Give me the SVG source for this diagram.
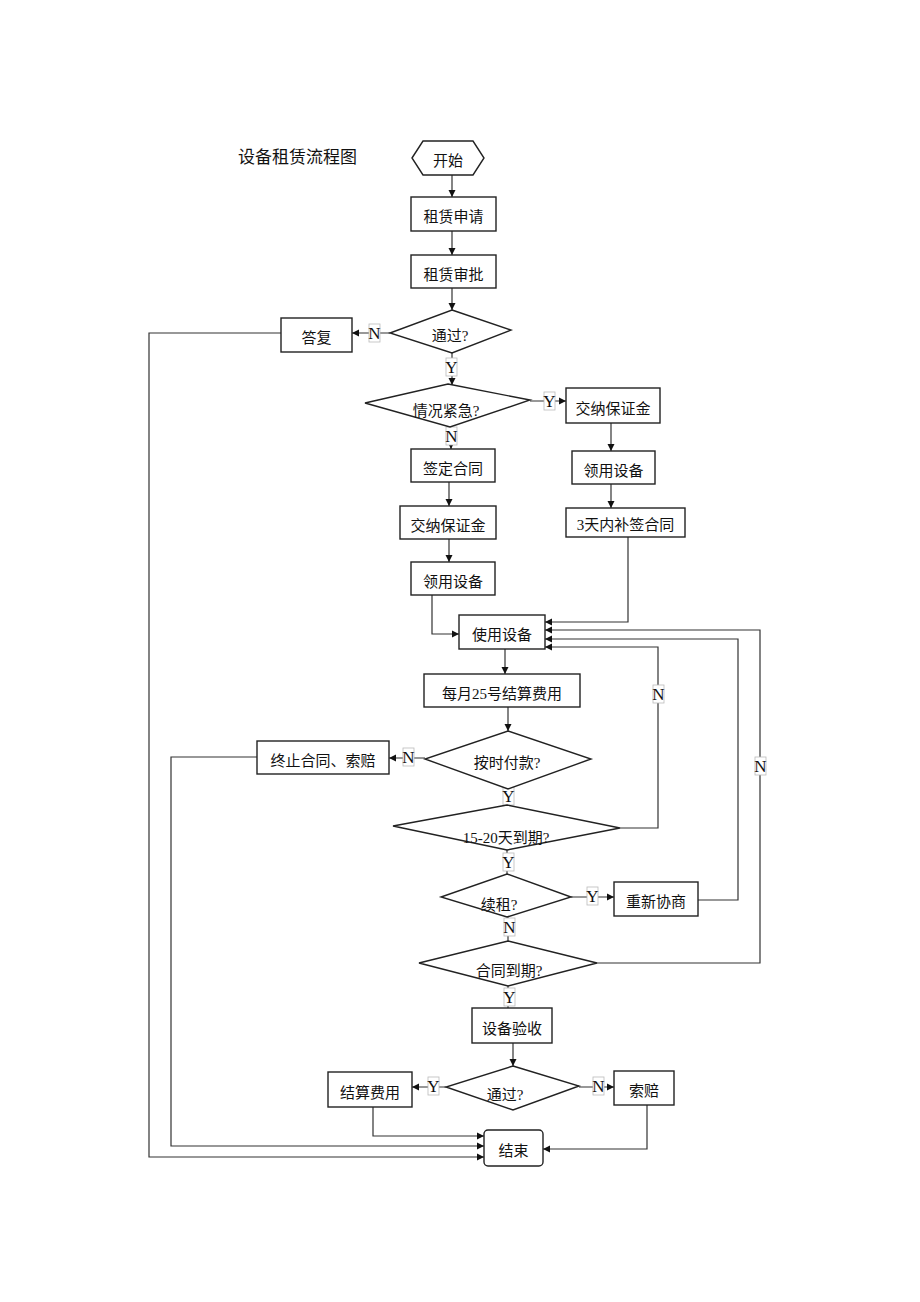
<svg xmlns="http://www.w3.org/2000/svg" width="920" height="1302" viewBox="0 0 920 1302">
<style>
text{font-family:"Liberation Serif","Noto Sans CJK SC",serif;font-size:15px;fill:#111;text-anchor:middle}
.title{font-size:17px;text-anchor:start}
.shape{fill:#fff;stroke:#222;stroke-width:1.4}
.conn{fill:none;stroke:#333;stroke-width:1.2}
.lb rect{fill:#fff;stroke:#bbb;stroke-width:0.8}
.lb text{font-size:17px}
</style>
<defs>
<marker id="ah" markerWidth="8" markerHeight="8" refX="7" refY="4" orient="auto" markerUnits="userSpaceOnUse"><path d="M0,0.5 L7,4 L0,7.5 z" fill="#111"/></marker>
</defs>
<rect width="920" height="1302" fill="#fff"/>
<text class="title" x="238" y="163">设备租赁流程图</text>

<g id="connectors">
<path class="conn" d="M452,175 V197" marker-end="url(#ah)"/>
<path class="conn" d="M452,231 V255" marker-end="url(#ah)"/>
<path class="conn" d="M452,288 V310" marker-end="url(#ah)"/>
<path class="conn" d="M390,333 H352" marker-end="url(#ah)"/>
<path class="conn" d="M281,333 H149 V1157 H484" marker-end="url(#ah)"/>
<path class="conn" d="M452,353 V385" marker-end="url(#ah)"/>
<path class="conn" d="M530,401 H566" marker-end="url(#ah)"/>
<path class="conn" d="M611,423 V451" marker-end="url(#ah)"/>
<path class="conn" d="M611,484 V508" marker-end="url(#ah)"/>
<path class="conn" d="M628,537 V622 H545" marker-end="url(#ah)"/>
<path class="conn" d="M451,428 V449" marker-end="url(#ah)"/>
<path class="conn" d="M449,482 V506" marker-end="url(#ah)"/>
<path class="conn" d="M449,539 V562" marker-end="url(#ah)"/>
<path class="conn" d="M432,595 V634 H459" marker-end="url(#ah)"/>
<path class="conn" d="M505,648 V674" marker-end="url(#ah)"/>
<path class="conn" d="M508,707 V731" marker-end="url(#ah)"/>
<path class="conn" d="M425,758 H389" marker-end="url(#ah)"/>
<path class="conn" d="M257,757 H171 V1146 H484" marker-end="url(#ah)"/>
<path class="conn" d="M508,789 V805"/>
<path class="conn" d="M620,828 H658 V647 H545" marker-end="url(#ah)"/>
<path class="conn" d="M507,850 V874"/>
<path class="conn" d="M571,897 H614" marker-end="url(#ah)"/>
<path class="conn" d="M698,900 H738 V639 H545" marker-end="url(#ah)"/>
<path class="conn" d="M508,917 V941"/>
<path class="conn" d="M597,963 H760 V630 H545" marker-end="url(#ah)"/>
<path class="conn" d="M508,986 V1008"/>
<path class="conn" d="M513,1043 V1066" marker-end="url(#ah)"/>
<path class="conn" d="M446,1087 H412" marker-end="url(#ah)"/>
<path class="conn" d="M579,1087 H614" marker-end="url(#ah)"/>
<path class="conn" d="M373,1107 V1136 H484" marker-end="url(#ah)"/>
<path class="conn" d="M647,1105 V1149 H543" marker-end="url(#ah)"/>

<g class="lb"><rect x="369" y="324" width="11" height="18"/><text x="374.5" y="339">N</text></g>
<g class="lb"><rect x="446" y="358" width="11" height="18"/><text x="451.5" y="373">Y</text></g>
<g class="lb"><rect x="544" y="392" width="11" height="18"/><text x="549.5" y="407">Y</text></g>
<g class="lb"><rect x="446" y="427" width="11" height="18"/><text x="451.5" y="442">N</text></g>
<g class="lb"><rect x="403" y="748" width="11" height="18"/><text x="408.5" y="763">N</text></g>
<g class="lb"><rect x="503" y="787" width="11" height="18"/><text x="508.5" y="802">Y</text></g>
<g class="lb"><rect x="653" y="685" width="11" height="18"/><text x="658.5" y="700">N</text></g>
<g class="lb"><rect x="503" y="853" width="11" height="18"/><text x="508.5" y="868">Y</text></g>
<g class="lb"><rect x="587" y="887" width="11" height="18"/><text x="592.5" y="902">Y</text></g>
<g class="lb"><rect x="504" y="918" width="11" height="18"/><text x="509.5" y="933">N</text></g>
<g class="lb"><rect x="755" y="757" width="11" height="18"/><text x="760.5" y="772">N</text></g>
<g class="lb"><rect x="504" y="988" width="11" height="18"/><text x="509.5" y="1003">Y</text></g>
<g class="lb"><rect x="428" y="1077" width="11" height="18"/><text x="433.5" y="1092">Y</text></g>
<g class="lb"><rect x="593" y="1077" width="11" height="18"/><text x="598.5" y="1092">N</text></g>
</g>

<g id="start"><polygon class="shape" points="412,158 423,141 473,141 484,158 473,175 423,175"/><text x="448" y="166">开始</text></g>
<g id="apply"><rect class="shape" x="411" y="197" width="85" height="34"/><text x="453.5" y="222">租赁申请</text></g>
<g id="approve"><rect class="shape" x="411" y="255" width="85" height="33"/><text x="453.5" y="280">租赁审批</text></g>
<g id="pass1"><polygon class="shape" points="452,310 511,330 452,353 390,333"/><text x="450" y="341">通过?</text></g>
<g id="reply"><rect class="shape" x="281" y="318" width="71" height="34"/><text x="316.5" y="343">答复</text></g>
<g id="urgent"><polygon class="shape" points="448,384 530,400 450,427 365,403"/><text x="446" y="416">情况紧急?</text></g>
<g id="deposit2"><rect class="shape" x="566" y="388" width="94" height="35"/><text x="613" y="414">交纳保证金</text></g>
<g id="receive2"><rect class="shape" x="572" y="451" width="83" height="33"/><text x="613.5" y="476">领用设备</text></g>
<g id="sign3"><rect class="shape" x="566" y="508" width="119" height="29"/><text x="625.5" y="530">3天内补签合同</text></g>
<g id="sign"><rect class="shape" x="411" y="449" width="84" height="33"/><text x="453" y="474">签定合同</text></g>
<g id="deposit1"><rect class="shape" x="400" y="506" width="96" height="33"/><text x="448" y="531">交纳保证金</text></g>
<g id="receive1"><rect class="shape" x="411" y="562" width="84" height="33"/><text x="453" y="587">领用设备</text></g>
<g id="use"><rect class="shape" x="459" y="615" width="86" height="34"/><text x="502" y="640">使用设备</text></g>
<g id="settle25"><rect class="shape" x="424" y="674" width="156" height="33"/><text x="502" y="699">每月25号结算费用</text></g>
<g id="ontime"><polygon class="shape" points="508,731 591,759 508,789 425,759"/><text x="507" y="768">按时付款?</text></g>
<g id="terminate"><rect class="shape" x="257" y="741" width="132" height="33"/><text x="323" y="766">终止合同、索赔</text></g>
<g id="due1520"><polygon class="shape" points="507,805 620,828 507,850 393,826"/><text x="506" y="843">15-20天到期?</text></g>
<g id="renew"><polygon class="shape" points="507,874 571,897 507,917 441,897"/><text x="499" y="910">续租?</text></g>
<g id="renegotiate"><rect class="shape" x="614" y="882" width="84" height="34"/><text x="656" y="907">重新协商</text></g>
<g id="expire"><polygon class="shape" points="508,941 597,963 508,986 419,963"/><text x="509" y="976">合同到期?</text></g>
<g id="inspect"><rect class="shape" x="472" y="1008" width="80" height="35"/><text x="512" y="1034">设备验收</text></g>
<g id="pass2"><polygon class="shape" points="513,1066 579,1086 513,1110 446,1087"/><text x="505" y="1100">通过?</text></g>
<g id="settle"><rect class="shape" x="328" y="1072" width="84" height="35"/><text x="370" y="1098">结算费用</text></g>
<g id="claim"><rect class="shape" x="614" y="1071" width="60" height="34"/><text x="644" y="1096">索赔</text></g>
<g id="end"><rect class="shape" x="484" y="1130" width="59" height="36" rx="4"/><text x="513.5" y="1156">结束</text></g>
</svg>
